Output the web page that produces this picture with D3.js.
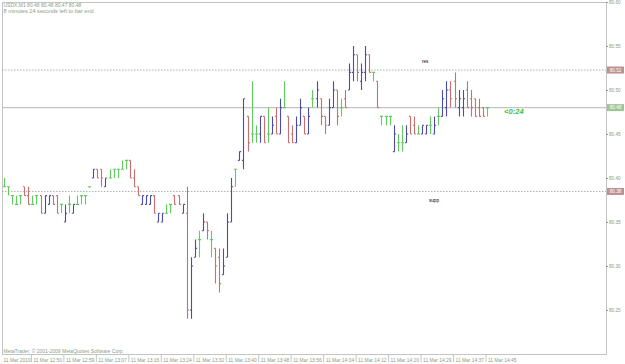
<!DOCTYPE html>
<head>
  <meta charset="utf-8">
  <script src="https://d3js.org/d3.v7.min.js"></script>
  <style>
    body { margin:0; background:#fff; }
    text { font-family: "Liberation Sans", Arial, sans-serif; }
  </style>
</head>
<body>
<script>

// USDX M1 bars (open / high / low / close)
var opens = [80.39,80.39,80.38,80.37,80.38,80.39,80.38,80.37,80.38,80.38,
  80.36,80.37,80.38,80.38,80.37,80.35,80.37,80.36,80.37,80.38,
  80.38,80.39,80.40,80.41,80.41,80.39,80.40,80.41,80.41,80.41,
  80.42,80.42,80.40,80.39,80.37,80.37,80.37,80.38,80.35,80.35,
  80.36,80.37,80.38,80.38,80.36,80.36,80.25,80.31,80.33,80.34,
  80.35,80.33,80.32,80.31,80.29,80.31,80.35,80.41,80.42,80.42,
  80.47,80.45,80.45,80.45,80.47,80.45,80.45,80.47,80.45,80.48,
  80.47,80.45,80.44,80.46,80.47,80.45,80.49,80.49,80.49,80.47,
  80.46,80.48,80.50,80.48,80.49,80.50,80.52,80.54,80.51,80.52,
  80.54,80.52,80.51,80.47,80.47,80.47,80.43,80.44,80.44,80.44,
  80.47,80.46,80.45,80.45,80.45,80.46,80.45,80.47,80.47,80.48,
  80.50,80.51,80.48,80.48,80.50,80.49,80.49,80.48,80.48,80.48];
var highs = [80.40,80.39,80.38,80.38,80.38,80.39,80.39,80.38,80.38,80.38,
  80.38,80.38,80.38,80.38,80.37,80.37,80.38,80.37,80.38,80.38,
  80.38,80.39,80.41,80.41,80.41,80.40,80.41,80.41,80.41,80.42,
  80.42,80.42,80.41,80.39,80.38,80.38,80.38,80.38,80.36,80.36,
  80.37,80.37,80.38,80.38,80.37,80.39,80.31,80.33,80.34,80.36,
  80.35,80.34,80.32,80.32,80.32,80.36,80.40,80.41,80.43,80.49,
  80.47,80.51,80.46,80.47,80.47,80.48,80.47,80.48,80.49,80.51,
  80.47,80.46,80.47,80.49,80.47,80.48,80.50,80.51,80.49,80.47,
  80.49,80.51,80.50,80.49,80.50,80.53,80.55,80.54,80.53,80.55,
  80.54,80.52,80.51,80.47,80.47,80.47,80.46,80.45,80.46,80.46,
  80.47,80.47,80.46,80.46,80.46,80.47,80.47,80.48,80.50,80.51,
  80.51,80.52,80.50,80.50,80.51,80.50,80.49,80.49,80.48,80.48];
var lows = [80.39,80.38,80.37,80.37,80.37,80.38,80.37,80.37,80.37,80.36,
  80.36,80.37,80.37,80.36,80.36,80.35,80.36,80.36,80.37,80.37,
  80.37,80.39,80.40,80.40,80.39,80.39,80.40,80.40,80.40,80.41,
  80.41,80.40,80.39,80.38,80.37,80.37,80.37,80.36,80.35,80.35,
  80.36,80.36,80.37,80.37,80.36,80.24,80.24,80.31,80.31,80.34,
  80.33,80.31,80.28,80.27,80.29,80.31,80.35,80.39,80.42,80.41,
  80.43,80.44,80.44,80.44,80.44,80.44,80.45,80.45,80.45,80.48,
  80.44,80.44,80.44,80.46,80.45,80.45,80.48,80.48,80.46,80.45,
  80.46,80.48,80.46,80.47,80.48,80.50,80.51,80.51,80.50,80.51,
  80.52,80.51,80.48,80.46,80.46,80.46,80.43,80.43,80.43,80.44,
  80.45,80.45,80.45,80.45,80.45,80.45,80.45,80.46,80.47,80.47,
  80.48,80.48,80.47,80.47,80.48,80.47,80.47,80.47,80.47,80.47];
var closes = [80.39,80.39,80.38,80.37,80.38,80.38,80.37,80.37,80.38,80.36,
  80.38,80.38,80.37,80.36,80.37,80.36,80.37,80.37,80.37,80.38,
  80.38,80.39,80.41,80.40,80.40,80.40,80.40,80.41,80.41,80.41,
  80.42,80.40,80.39,80.38,80.38,80.38,80.38,80.36,80.36,80.36,
  80.36,80.37,80.37,80.37,80.37,80.25,80.30,80.32,80.33,80.35,
  80.34,80.33,80.30,80.28,80.30,80.35,80.39,80.41,80.43,80.49,
  80.44,80.45,80.45,80.47,80.44,80.45,80.46,80.45,80.48,80.48,
  80.44,80.44,80.46,80.48,80.45,80.47,80.49,80.50,80.47,80.46,
  80.48,80.50,80.47,80.48,80.48,80.52,80.54,80.52,80.52,80.54,
  80.52,80.52,80.48,80.47,80.47,80.47,80.45,80.44,80.44,80.45,
  80.45,80.45,80.45,80.46,80.46,80.46,80.46,80.47,80.49,80.50,
  80.49,80.49,80.49,80.49,80.48,80.48,80.47,80.47,80.47,80.48];

var timeLabels = ["11 Mar 2010","11 Mar 12:50","11 Mar 12:59","11 Mar 13:07","11 Mar 13:16",
  "11 Mar 13:24","11 Mar 13:32","11 Mar 13:40","11 Mar 13:48","11 Mar 13:56","11 Mar 14:04",
  "11 Mar 14:12","11 Mar 14:20","11 Mar 14:29","11 Mar 14:37","11 Mar 14:45"];
var timeIndex = [0,7,15,23,31,39,47,55,63,71,79,87,95,103,111,119];
var priceTicks = [80.25,80.30,80.35,80.40,80.45,80.50,80.55,80.60];

var resLevel = 80.5227, suppLevel = 80.3847, bid = 80.48;
var title = "USDX,M1  80.48 80.48 80.47 80.48";
var subtitle = "8 minutes 24 seconds left to bar end";
var timer = "<0:24";

var W = 625, H = 364;
var frame = {left: 2, top: 2, right: 606, bottom: 354};
var fg = "#8c9c86";

var svg = d3.select("body").append("svg")
    .attr("width", W).attr("height", H);

svg.append("rect").attr("width", W).attr("height", H).attr("fill", "#fff");

var x = d3.scaleLinear().domain([0, opens.length - 1]).range([4, 487]);
var y = d3.scaleLinear().domain([80.20, 80.60]).range([frame.bottom, frame.top]);

// frame
svg.append("rect")
    .attr("x", frame.left + 0.5).attr("y", frame.top + 0.5)
    .attr("width", frame.right - frame.left).attr("height", frame.bottom - frame.top)
    .attr("fill", "none").attr("stroke", "#c4c4c4");

// levels
function level(p, dashed) {
  svg.append("line")
    .attr("x1", frame.left).attr("x2", frame.right)
    .attr("y1", y(p)).attr("y2", y(p))
    .attr("stroke", dashed ? "#9a9a9a" : "#c4c4c4")
    .attr("stroke-width", dashed ? 0.8 : 1.4)
    .attr("stroke-dasharray", dashed ? "1.5,1.5" : null);
}
level(resLevel, true);
level(suppLevel, true);
level(bid, false);

// bars: up = navy, down = red, open == close = green
var bars = d3.range(opens.length);
svg.append("g").selectAll("path")
  .data(bars)
  .enter().append("path")
    .attr("fill", "none")
    .attr("stroke-width", 1.1)
    .attr("stroke", function(i){
      if (closes[i] > opens[i]) return "#4c4ca8";
      if (closes[i] < opens[i]) return "#c87070";
      return "#60cc60";
    })
    .attr("d", function(i){
      var cx = Math.round(x(i)) + 0.5;
      var yh = y(highs[i]), yl = y(lows[i]);
      if (yl - yh < 1) yl = yh + 1;
      return "M" + cx + "," + yh + "V" + yl +
        "M" + (cx - 1.6) + "," + y(opens[i]) + "H" + cx +
        "M" + cx + "," + y(closes[i]) + "H" + (cx + 1.6);
    });

// price axis
var yAxis = svg.append("g")
    .attr("transform", "translate(" + frame.right + ",0)")
    .call(d3.axisRight(y).tickValues(priceTicks).tickSize(2).tickPadding(1)
      .tickFormat(d3.format(".2f")));
yAxis.select(".domain").remove();
yAxis.selectAll("line").attr("stroke", fg);
yAxis.selectAll("text").attr("fill", fg).attr("font-size", 4.7);

// level price boxes
function box(p, col) {
  var g = svg.append("g").attr("transform", "translate(607," + y(p) + ")");
  g.append("rect").attr("x", 0).attr("y", -3.5).attr("width", 17).attr("height", 7).attr("fill", col);
  g.append("text").attr("x", 8.5).attr("y", 1.7).attr("text-anchor", "middle")
    .attr("font-size", 4.7).attr("fill", "#fff").text(d3.format(".2f")(p));
}
box(resLevel, "#bd9090");
box(bid, "#9fc597");
box(suppLevel, "#bd9090");

// time axis
var xAxis = svg.append("g")
    .attr("transform", "translate(0," + frame.bottom + ")")
    .call(d3.axisBottom(x).tickValues(timeIndex).tickSize(8).tickPadding(-7)
      .tickFormat(function(d, k){ return timeLabels[k]; }));
xAxis.select(".domain").remove();
xAxis.selectAll("line").attr("stroke", "#c4c4c4")
    .attr("transform", "translate(-1.5,0)")
    .attr("opacity", function(d, k){ return k === 0 ? 0 : 1; });
xAxis.selectAll("text").attr("fill", fg).attr("font-size", 4.9)
    .attr("text-anchor", "start").attr("dy", 0).attr("y", 8)
    .attr("x", function(d, k){ return k === 0 ? 3 - x(d) : 0.5; });

// labels
svg.append("text").attr("x", 3.5).attr("y", 7).attr("font-size", 5.0).attr("fill", fg).text(title);
svg.append("text").attr("x", 3.5).attr("y", 12.5).attr("font-size", 5.6).attr("fill", fg).text(subtitle);
svg.append("text").attr("x", 3.5).attr("y", 352.5).attr("font-size", 5.0).attr("fill", fg)
    .text("MetaTrader, \u00a9 2001-2009 MetaQuotes Software Corp.");

svg.append("text").attr("x", 422).attr("y", y(resLevel) - 7).attr("font-size", 4.6).attr("fill", "#000").text("res");
svg.append("text").attr("x", 429).attr("y", y(suppLevel) + 11).attr("font-size", 4.6).attr("fill", "#000").text("supp");

svg.append("text").attr("x", 504).attr("y", y(bid) + 6.5)
    .attr("font-size", 7.6).attr("font-weight", "bold").attr("font-style", "italic")
    .attr("fill", "#3fc23f").text(timer);

</script>
</body>
